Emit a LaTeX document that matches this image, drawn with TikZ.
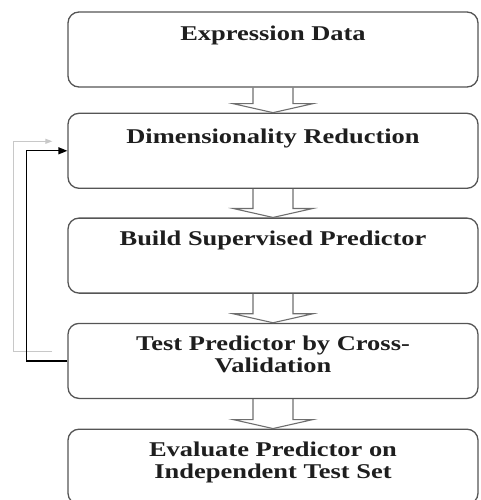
\documentclass[tikz,border=0pt]{standalone}
\usepackage{fontspec}
\setmainfont{Liberation Serif}[FakeStretch=1.26]
\usetikzlibrary{positioning, calc, arrows.meta}
\definecolor{boxgray}{HTML}{555555}
\definecolor{arrgray}{HTML}{6E6E6E}
\definecolor{ghostgray}{HTML}{C8C8C8}
\definecolor{inkgray}{HTML}{1E1E1E}
\tikzstyle{stepbox} = [rectangle, rounded corners=11pt, minimum width=410pt, minimum height=75pt, draw=boxgray, line width=1.3pt]
\tikzstyle{steptext} = [inner sep=0pt, align=center, text=inkgray, font=\bfseries\fontsize{21}{22}\selectfont]
\tikzstyle{blockarrow} = [draw=arrgray, line width=1.1pt]
\tikzstyle{loop} = [line width=1.3pt, -{Triangle[length=9pt,width=7pt]}]
\tikzstyle{ghost} = [draw=ghostgray, line width=1pt, -{Triangle[length=7pt,width=5pt]}]

\begin{document}
\begin{tikzpicture}
        \clip (0,0) rectangle (480pt,-500pt);
        % Boxes
        \node (data) [stepbox] at (273pt,-49.5pt) {};
        \node (dimred) [stepbox, below=25pt of data] {};
        \node (build) [stepbox, below=28.5pt of dimred] {};
        \node (test) [stepbox, below=29pt of build] {};
        \node (eval) [stepbox, below=29.5pt of test] {};

        % Texts
        \node (dataText) [steptext, below=14pt of data.north] {Expression Data};
        \node (dimredText) [steptext, below=16pt of dimred.north] {Dimensionality Reduction};
        \node (buildText) [steptext, below=13pt of build.north] {Build Supervised Predictor};
        \node (testText) [steptext, below=13pt of test.north] {Test Predictor by Cross-\\Validation};
        \node (evalText) [steptext, below=13pt of eval.north] {Evaluate Predictor on\\Independent Test Set};

        % Block arrows
        \draw [blockarrow] ($(data.south)+(-20pt,0)$) |- ($(dimred.north)+(-40pt,9pt)$) -- (dimred.north) -- ($(dimred.north)+(40pt,9pt)$) -| ($(data.south)+(20pt,0)$);
        \draw [blockarrow] ($(dimred.south)+(-20pt,0)$) |- ($(build.north)+(-40pt,9pt)$) -- (build.north) -- ($(build.north)+(40pt,9pt)$) -| ($(dimred.south)+(20pt,0)$);
        \draw [blockarrow] ($(build.south)+(-20pt,0)$) |- ($(test.north)+(-40pt,9pt)$) -- (test.north) -- ($(test.north)+(40pt,9pt)$) -| ($(build.south)+(20pt,0)$);
        \draw [blockarrow] ($(test.south)+(-20pt,0)$) |- ($(eval.north)+(-40pt,9pt)$) -- (eval.north) -- ($(eval.north)+(40pt,9pt)$) -| ($(test.south)+(20pt,0)$);

        % Feedback loop
        \coordinate (ghostStart) at ($(test.west)+(-15pt,9.5pt)$);
        \coordinate (ghostTip) at ($(dimred.west)+(-15pt,9.5pt)$);
        \draw [ghost] (ghostStart) -- ++(-39pt,0) |- (ghostTip);
        \draw [loop] (test.west) -- ++(-41pt,0) |- (dimred.west);
\end{tikzpicture}
\end{document}
